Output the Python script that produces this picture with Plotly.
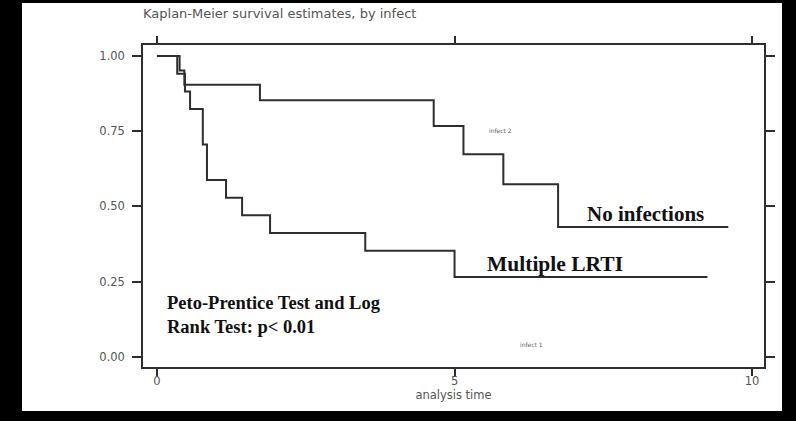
import plotly.graph_objects as go

# Kaplan-Meier step data
time_multiple = [0, 0.34, 0.47, 0.556, 0.77, 0.84, 1.16, 1.43, 1.9, 3.5, 5.0, 9.25]
surv_multiple = [1.0, 0.941, 0.882, 0.824, 0.706, 0.588, 0.529, 0.471, 0.412, 0.353, 0.265, 0.265]

time_none = [0, 0.38, 0.46, 1.73, 4.65, 5.15, 5.82, 6.74, 9.6]
surv_none = [1.0, 0.952, 0.905, 0.853, 0.768, 0.674, 0.574, 0.432, 0.432]

x_ticks = [0, 5, 10]
x_ticklabels = ["0", "5", "10"]
y_ticks = [0, 0.25, 0.5, 0.75, 1.0]
y_ticklabels = ["0.00", "0.25", "0.50", "0.75", "1.00"]

line_col = "#2e2e2e"
tick_col = "#555555"

fig = go.Figure()
fig.add_trace(go.Scatter(x=time_none, y=surv_none, mode="lines",
                         line=dict(shape="hv", color=line_col, width=2), name="infect 2"))
fig.add_trace(go.Scatter(x=time_multiple, y=surv_multiple, mode="lines",
                         line=dict(shape="hv", color=line_col, width=2), name="infect 1"))

L, R, T, B = 143, 32, 45, 54
W, H = 796, 421
pw, ph = W - L - R, H - T - B

def px2paper_x(px):
    return (px - L) / pw

def px2paper_y(py):
    return (H - B - py) / ph

# white page inside black frame
fig.add_shape(type="rect", xref="paper", yref="paper",
              x0=px2paper_x(22), x1=px2paper_x(782),
              y0=px2paper_y(411), y1=px2paper_y(3),
              fillcolor="white", line=dict(width=0), layer="below")

fig.add_annotation(xref="paper", yref="paper", x=px2paper_x(141), y=px2paper_y(14),
                   xanchor="left", yanchor="middle", showarrow=False,
                   text="Kaplan-Meier survival estimates, by infect",
                   font=dict(family="DejaVu Sans", size=13, color=tick_col))

serif = "Liberation Serif"
fig.add_annotation(x=7.19, y=0.4745, xanchor="left", yanchor="middle", showarrow=False,
                   text="<b>No infections</b>", font=dict(family=serif, size=21, color="#111"))
fig.add_annotation(x=5.51, y=0.308, xanchor="left", yanchor="middle", showarrow=False,
                   text="<b>Multiple LRTI</b>", font=dict(family=serif, size=21.5, color="#111"))
fig.add_annotation(x=0.134, y=0.139, xanchor="left", yanchor="middle", showarrow=False,
                   align="left",
                   text="<b>Peto-Prentice Test and Log<br>Rank Test: p< 0.01</b>",
                   font=dict(family=serif, size=18.5, color="#111"))
fig.add_annotation(x=5.78, y=0.754, xanchor="center", yanchor="middle", showarrow=False,
                   text="infect 2", font=dict(family="DejaVu Sans", size=6, color="#666"))
fig.add_annotation(x=6.29, y=0.042, xanchor="center", yanchor="middle", showarrow=False,
                   text="infect 1", font=dict(family="DejaVu Sans", size=6, color="#666"))

fig.update_layout(
    width=W, height=H,
    margin=dict(l=L, r=R, t=T, b=B, pad=0),
    paper_bgcolor="black",
    plot_bgcolor="white",
    showlegend=False,
    xaxis=dict(range=[-0.235, 10.2], tickvals=x_ticks, ticktext=x_ticklabels,
               showgrid=False, zeroline=False, showline=True, linecolor=line_col, linewidth=1.5,
               mirror="ticks", ticks="outside", ticklen=7, tickwidth=1.5, tickcolor=line_col,
               ticklabelstandoff=-5,
               tickfont=dict(family="DejaVu Sans", size=11.5, color=tick_col),
               title=dict(text="analysis time", standoff=2,
                          font=dict(family="DejaVu Sans", size=11.5, color=tick_col))),
    yaxis=dict(range=[-0.034, 1.037], tickvals=y_ticks, ticktext=y_ticklabels,
               showgrid=False, zeroline=False, showline=True, linecolor=line_col, linewidth=1.5,
               mirror="ticks", ticks="outside", ticklen=9, tickwidth=1.5, tickcolor=line_col,
               ticklabelstandoff=5,
               tickfont=dict(family="DejaVu Sans", size=11.5, color=tick_col)),
)

fig.write_html("out.html", config={"displayModeBar": False},
               post_script="document.body.style.margin='0';document.body.style.background='black';")
